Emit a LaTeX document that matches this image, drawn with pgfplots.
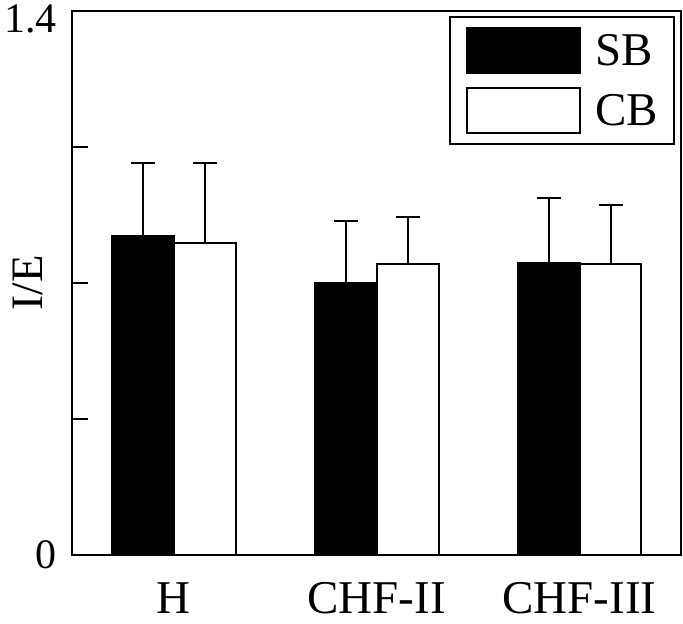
\documentclass[border=0pt]{standalone}
\usepackage{pgfplots}
\pgfplotsset{compat=1.18}
\usepackage{fontspec}
\setmainfont{Liberation Serif}
\begin{document}
\begin{tikzpicture}
\begin{axis}[
  scale only axis, width=608.5pt, height=544pt,
  xmin=-0.5, xmax=2.5, ymin=0, ymax=1.4,
  ybar=0pt, bar width=0.305,
  axis line style={line width=2pt},
  xtick={0,1,2}, xticklabels={H,CHF-II,CHF-III},
  major x tick style={draw=none},
  ytick={0,0.35,0.7,1.05,1.4}, yticklabels={0,,,,\raisebox{-22pt}[0pt][0pt]{1.4}},
  ytick pos=left, xtick pos=bottom, tick align=inside, major tick length=15pt,
  tick style={line width=2pt, black},
  xticklabel style={font=\fontsize{47}{47}\selectfont, anchor=base, inner sep=0pt, yshift=-58pt},
  yticklabel style={font=\fontsize{42}{42}\selectfont, /pgf/number format/assume math mode=true, xshift=-12pt},
  ylabel={I/E},
  ylabel style={font=\fontsize{45}{45}\selectfont, at={(axis description cs:-0.0731,0.5)}, anchor=center},
  legend cell align=left,
  legend style={at={(rel axis cs:1,1)}, anchor=north east, xshift=-6pt, yshift=-5pt,
    draw=black, line width=2pt, font=\fontsize{47}{47}\selectfont,
    inner xsep=16pt, inner ysep=10pt, row sep=13pt, column sep=14pt,
    nodes={inner sep=0pt}},
]
\addplot[fill=black, draw=black, line width=2pt,
  error bars/.cd, y dir=plus, y explicit, error mark=|,
  error bar style={line width=2pt, black},
  error mark options={line width=2pt, mark size=12pt, black},
  /pgfplots/legend image code/.code={\draw[fill=black, draw=black, line width=2pt] (0pt,-22.5pt) rectangle (113pt,22.5pt);}]
  coordinates {(0,0.821) +- (0,0.188) (1,0.700) +- (0,0.159) (2,0.751) +- (0,0.168)};
\addlegendentry{SB}
\addplot[fill=white, draw=black, line width=2pt,
  error bars/.cd, y dir=plus, y explicit, error mark=|,
  error bar style={line width=2pt, black},
  error mark options={line width=2pt, mark size=12pt, black},
  /pgfplots/legend image code/.code={\draw[fill=white, draw=black, line width=2pt] (0pt,-22.5pt) rectangle (113pt,22.5pt);}]
  coordinates {(0,0.803) +- (0,0.206) (1,0.749) +- (0,0.121) (2,0.749) +- (0,0.152)};
\addlegendentry{CB}
\end{axis}
\pgfresetboundingbox
\path ([shift={(-72.5pt,-68pt)}]current axis.south west) rectangle ([shift={(2pt,11pt)}]current axis.north east);
\end{tikzpicture}
\end{document}
